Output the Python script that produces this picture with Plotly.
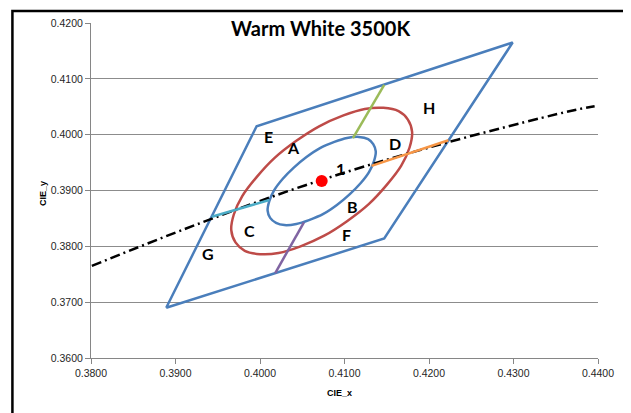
import plotly.graph_objects as go

# ---------------- data ----------------
quad_x = [0.3889, 0.3996, 0.4299, 0.4147, 0.3889]
quad_y = [0.3690, 0.4015, 0.4165, 0.3814, 0.3690]

inner_x = [0.4128, 0.4117, 0.4103, 0.4088, 0.4071, 0.4055, 0.4040, 0.4027, 0.4017, 0.4011, 0.4009, 0.4012,
           0.4019, 0.4029, 0.4043, 0.4058, 0.4075, 0.4091, 0.4106, 0.4119, 0.4129, 0.4135, 0.4137, 0.4134, 0.4128]
inner_y = [0.3992, 0.3996, 0.3994, 0.3987, 0.3976, 0.3960, 0.3941, 0.3921, 0.3901, 0.3881, 0.3864, 0.3851,
           0.3842, 0.3838, 0.3840, 0.3847, 0.3858, 0.3874, 0.3893, 0.3913, 0.3933, 0.3953, 0.3970, 0.3983, 0.3992]

outer_x = [0.4164, 0.4146, 0.4124, 0.4098, 0.4070, 0.4043, 0.4017, 0.3996, 0.3979, 0.3969, 0.3966, 0.3971,
           0.3982, 0.4000, 0.4022, 0.4048, 0.4076, 0.4103, 0.4129, 0.4150, 0.4167, 0.4177, 0.4180, 0.4175, 0.4164]
outer_y = [0.4042, 0.4048, 0.4046, 0.4034, 0.4015, 0.3989, 0.3958, 0.3924, 0.3890, 0.3857, 0.3829, 0.3807,
           0.3792, 0.3786, 0.3788, 0.3800, 0.3819, 0.3845, 0.3876, 0.3910, 0.3944, 0.3977, 0.4005, 0.4027, 0.4042]

locus_x = [0.3801, 0.3923, 0.4053, 0.4200, 0.4366, 0.4396]
locus_y = [0.3765, 0.3838, 0.3909, 0.3977, 0.4042, 0.4051]

center_x = [0.4073]
center_y = [0.3917]

green_x = [0.4110, 0.4147]
green_y = [0.3994, 0.4089]
orange_x = [0.4132, 0.4223]
orange_y = [0.3944, 0.3990]
purple_x = [0.4052, 0.4018]
purple_y = [0.3843, 0.3752]
cyan_x = [0.3943, 0.4011]
cyan_y = [0.3853, 0.3883]

label_text = ["E", "A", "1", "D", "H", "B", "F", "C", "G"]
label_x = [0.4010, 0.4040, 0.4095, 0.4160, 0.4200, 0.4110, 0.4102, 0.3988, 0.3939]
label_y = [0.3997, 0.3977, 0.3940, 0.3985, 0.4049, 0.3871, 0.3821, 0.3828, 0.3787]

title_text = "Warm White 3500K"
x_ticks = [0.38, 0.39, 0.40, 0.41, 0.42, 0.43, 0.44]
y_ticks = [0.36, 0.37, 0.38, 0.39, 0.40, 0.41, 0.42]

# ---------------- figure ----------------
BLUE = "#4A7EBB"
RED = "#BE4B48"
fig = go.Figure()

def line(x, y, color, width=2.5, dash=None, shape="linear"):
    fig.add_trace(go.Scatter(x=x, y=y, mode="lines",
                             line=dict(color=color, width=width, dash=dash, shape=shape),
                             hoverinfo="skip", showlegend=False))

line(quad_x, quad_y, BLUE)
line(outer_x, outer_y, RED, shape="spline")
line(inner_x, inner_y, BLUE, shape="spline")
line(locus_x, locus_y, "black", width=2.5, dash="10px,4px,2px,4px", shape="spline")
line(green_x, green_y, "#9BBB59")
line(orange_x, orange_y, "#F79646")
line(purple_x, purple_y, "#8064A2")
line(cyan_x, cyan_y, "#4BACC6")

fig.add_trace(go.Scatter(x=center_x, y=center_y, mode="markers",
                         marker=dict(color="#FF0000", size=12),
                         hoverinfo="skip", showlegend=False))

for t, x, y in zip(label_text, label_x, label_y):
    fig.add_annotation(x=x, y=y, text="<b>%s</b>" % t, showarrow=False,
                       font=dict(family="Lato", size=16, color="black"))

fig.add_annotation(x=0.4071, y=0.4191, text="<b>%s</b>" % title_text, showarrow=False,
                   font=dict(family="Lato", size=20, color="black"))

# axis titles
fig.add_annotation(xref="paper", yref="paper", x=0.49, y=-0.104, text="<b>CIE_x</b>",
                   showarrow=False, yanchor="middle",
                   font=dict(family="Liberation Sans Narrow, Liberation Sans", size=9, color="black"))
fig.add_annotation(xref="paper", yref="paper", x=-0.108, y=0.49, text="<b>CIE_y</b>",
                   showarrow=False, textangle=-90,
                   font=dict(family="Liberation Sans Narrow, Liberation Sans", size=9, color="black"))

# chart frame (black border of the Excel chart object)
fig.add_shape(type="rect", xref="paper", yref="paper",
              x0=-0.155, x1=1.0546, y0=-0.25, y1=1.036,
              line=dict(color="black", width=2.5), layer="below")

fig.update_layout(
    width=623, height=405,
    margin=dict(l=83, r=33, t=9, b=55),
    paper_bgcolor="white", plot_bgcolor="white",
    font=dict(family="Liberation Sans", size=10, color="#262626"),
)
fig.update_xaxes(range=[0.38, 0.44], tickvals=x_ticks, ticktext=["%.4f" % v for v in x_ticks],
                 showgrid=False, zeroline=False, showline=True, linecolor="#868686", linewidth=1,
                 ticks="outside", ticklen=5, tickcolor="#868686",
                 tickfont=dict(family="Liberation Sans", size=10.5, color="#262626"))
fig.update_yaxes(range=[0.36, 0.42], tickvals=y_ticks, ticktext=["%.4f" % v for v in y_ticks],
                 showgrid=True, gridcolor="#8C8C8C", gridwidth=1, zeroline=False,
                 showline=True, linecolor="#868686", linewidth=1,
                 ticks="outside", ticklen=5, tickcolor="#868686",
                 tickfont=dict(family="Liberation Sans", size=10.5, color="#262626"))

fig.write_html("out.html")
